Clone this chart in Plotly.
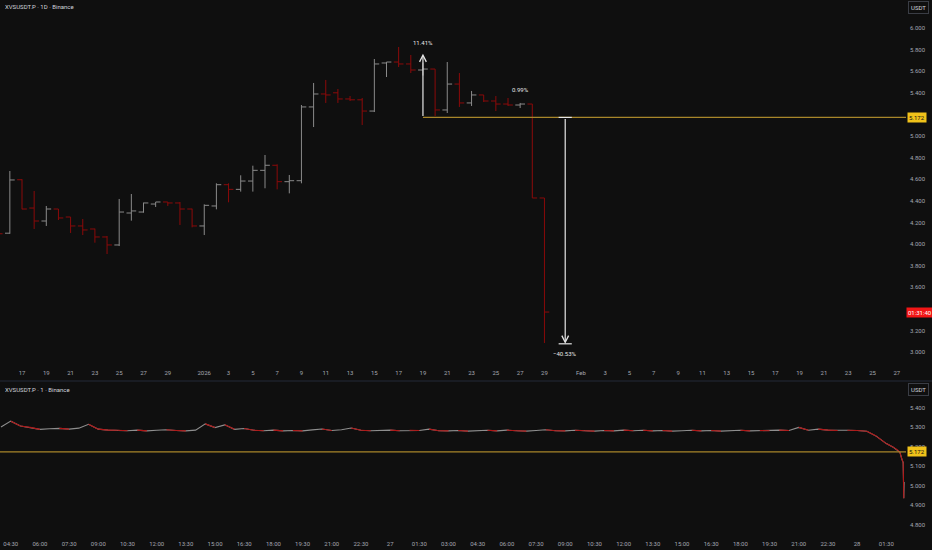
import pandas as pd
import plotly.graph_objects as go

# ---------------- data: daily OHLC (top pane) ----------------
dates = pd.date_range("2025-12-15", "2026-01-29", freq="D")
opens = [4.200, 4.100, 4.595, 4.333, 4.213, 4.324, 4.250, 4.167, 4.139, 4.065, 3.991, 4.287, 4.296, 4.370, 4.389, 4.380, 4.324,
         4.167, 4.352, 4.549, 4.506, 4.583, 4.682, 4.729, 4.577, 4.586, 5.269, 5.389, 5.400, 5.343, 5.335, 5.231, 5.676,
         5.685, 5.667, 5.611, 5.620, 5.241, 5.481, 5.306, 5.380, 5.324, 5.296, 5.287, 5.296, 4.426]
highs = [4.250, 4.676, 4.600, 4.491, 4.352, 4.324, 4.250, 4.231, 4.142, 4.074, 4.417, 4.463, 4.383, 4.389, 4.389, 4.389, 4.327,
         4.367, 4.562, 4.562, 4.636, 4.725, 4.824, 4.738, 4.639, 5.287, 5.491, 5.519, 5.435, 5.370, 5.352, 5.713, 5.685,
         5.824, 5.750, 5.680, 5.620, 5.685, 5.583, 5.417, 5.380, 5.370, 5.352, 5.306, 5.296, 4.426]
lows = [4.080, 4.095, 4.322, 4.139, 4.167, 4.222, 4.102, 4.083, 4.012, 3.907, 3.981, 4.216, 4.290, 4.343, 4.352, 4.176, 4.154,
        4.083, 4.321, 4.386, 4.485, 4.485, 4.516, 4.506, 4.469, 4.562, 5.083, 5.306, 5.306, 5.324, 5.102, 5.222, 5.546,
        5.639, 5.583, 5.560, 5.185, 5.213, 5.269, 5.278, 5.315, 5.231, 5.278, 5.259, 4.426, 3.083]
closes = [4.095, 4.593, 4.324, 4.213, 4.324, 4.241, 4.167, 4.130, 4.065, 3.991, 4.296, 4.306, 4.380, 4.389, 4.380, 4.324, 4.167,
          4.358, 4.549, 4.506, 4.583, 4.682, 4.729, 4.577, 4.586, 5.269, 5.389, 5.380, 5.343, 5.335, 5.231, 5.667, 5.685,
          5.667, 5.611, 5.620, 5.241, 5.481, 5.306, 5.380, 5.324, 5.296, 5.287, 5.296, 4.426, 3.370]

# ---------------- data: intraday (bottom pane) ----------------
intra_times = list(pd.date_range("2026-01-26 04:00", "2026-01-28 01:30", freq="30min")) + \
    [pd.Timestamp(t) for t in ["2026-01-28 01:50", "2026-01-28 02:05", "2026-01-28 02:12", "2026-01-28 02:18",
                               "2026-01-28 02:22", "2026-01-28 02:24", "2026-01-28 02:25"]]
intra_prices = [5.300, 5.330, 5.305, 5.298, 5.288, 5.291, 5.293, 5.289, 5.294, 5.314,
                5.289, 5.284, 5.283, 5.281, 5.284, 5.280, 5.283, 5.286, 5.282, 5.280,
                5.284, 5.316, 5.297, 5.311, 5.288, 5.292, 5.283, 5.281, 5.284, 5.280,
                5.282, 5.280, 5.285, 5.290, 5.282, 5.286, 5.295, 5.283, 5.281, 5.282,
                5.284, 5.281, 5.283, 5.282, 5.289, 5.281, 5.280, 5.282, 5.279, 5.281,
                5.283, 5.280, 5.284, 5.281, 5.279, 5.282, 5.286, 5.281, 5.280, 5.283,
                5.281, 5.279, 5.282, 5.280, 5.284, 5.281, 5.283, 5.280, 5.282, 5.279,
                5.281, 5.283, 5.280, 5.282, 5.279, 5.281, 5.283, 5.280, 5.282, 5.281,
                5.284, 5.282, 5.298, 5.283, 5.289, 5.284, 5.282, 5.283, 5.282, 5.278,
                5.252, 5.215,
                5.198, 5.182, 5.170, 5.135, 5.118, 4.935, 5.018]

# ---------------- annotations data ----------------
level = 5.172
up_pct = 11.41
down_pct = -40.53
small_pct = 0.99
up_date = pd.Timestamp("2026-01-19")
down_date = pd.Timestamp("2026-01-30 17:00")
small_date = pd.Timestamp("2026-01-27")
countdown = "01:31:40"

top_ticks = list(pd.date_range("2025-12-17", "2025-12-29", freq="2D")) + \
    list(pd.date_range("2026-01-01", "2026-01-01")) + list(pd.date_range("2026-01-03", "2026-01-29", freq="2D")) + \
    list(pd.date_range("2026-02-01", "2026-02-01")) + list(pd.date_range("2026-02-03", "2026-02-27", freq="2D"))
top_ticktext = []
for d in top_ticks:
    if d.month == 1 and d.day == 1:
        top_ticktext.append("2026")
    elif d.day == 1:
        top_ticktext.append(d.strftime("%b"))
    else:
        top_ticktext.append(str(d.day))

bot_ticks = list(pd.date_range("2026-01-26 04:30", "2026-01-28 01:30", freq="90min"))
bot_ticktext = [str(t.day) if (t.hour == 0 and t.minute == 0) else t.strftime("%H:%M") for t in bot_ticks]

yt_top = [3.0, 3.2, 3.6, 3.8, 4.0, 4.2, 4.4, 4.6, 4.8, 5.0, 5.4, 5.6, 5.8, 6.0]
yt_bot = [4.8, 4.9, 5.0, 5.1, 5.2, 5.3, 5.4]

# ---------------- style / layout constants ----------------
W, H = 932, 550
BG = "#0f0f0f"
TXT = "#a3a6af"
UP = "#8a8a8a"
DN = "#8b0a0a"
GOLD = "#a8862a"
FONT = "Roboto"
FS = 6
plot_w = 906
xr = plot_w / W

top_bot_px = 363
bot_top_px, bot_bot_px = 381, 535

px_day = 12.15
a_top = pd.Timestamp("2025-12-17")
top_range = [a_top - pd.Timedelta(days=22 / px_day), a_top + pd.Timedelta(days=(plot_w - 22) / px_day)]
px_unit_top = 108.0
top_yrange = [6.0 - (top_bot_px - 28) / px_unit_top, 6.0 + 28 / px_unit_top]
px_hour = 19.5
a_bot = pd.Timestamp("2026-01-27")
bot_range = [a_bot - pd.Timedelta(hours=391 / px_hour), a_bot + pd.Timedelta(hours=(plot_w + 2 - 391) / px_hour)]
px_unit_bot = 195.0
bot_yrange = [5.3 - (bot_bot_px - 427) / px_unit_bot, 5.3 + (427 - bot_top_px) / px_unit_bot]

fig = go.Figure()

fig.add_trace(go.Ohlc(x=dates, open=opens, high=highs, low=lows, close=closes,
                      increasing=dict(line=dict(color=UP, width=1)),
                      decreasing=dict(line=dict(color=DN, width=1)),
                      tickwidth=0.4, xaxis="x", yaxis="y", hoverinfo="skip"))

fig.add_trace(go.Scatter(x=intra_times, y=intra_prices, mode="lines",
                         line=dict(color="#8e8e8e", width=1.1), xaxis="x2", yaxis="y2", hoverinfo="skip"))
rx, ry = [], []
for i in range(1, len(intra_prices)):
    if intra_prices[i] < intra_prices[i - 1]:
        rx += [intra_times[i - 1], intra_times[i], None]
        ry += [intra_prices[i - 1], intra_prices[i], None]
fig.add_trace(go.Scatter(x=rx, y=ry, mode="lines", line=dict(color="#b01515", width=1.1),
                         xaxis="x2", yaxis="y2", hoverinfo="skip", connectgaps=False))

up_target = level * (1 + up_pct / 100)
down_target = level * (1 + down_pct / 100)

top_dom = [1 - top_bot_px / H, 1]
bot_dom = [1 - bot_bot_px / H, 1 - bot_top_px / H]

tickfont = dict(family=FONT, size=FS, color=TXT)

fig.update_layout(
    width=W, height=H, margin=dict(l=0, r=0, t=0, b=0),
    paper_bgcolor=BG, plot_bgcolor=BG, showlegend=False, hovermode=False,
    font=dict(family=FONT, color=TXT, size=FS),
    xaxis=dict(domain=[0, xr], anchor="y", type="date", range=top_range, tickmode="array",
               tickvals=top_ticks, ticktext=top_ticktext, tickfont=tickfont, showgrid=False, zeroline=False,
               showline=False, ticks="", ticklabelstandoff=5, rangeslider=dict(visible=False), fixedrange=True),
    yaxis=dict(domain=top_dom, anchor="x", side="right", range=top_yrange, tickmode="array", tickvals=yt_top,
               ticktext=[f"{v:.3f}" for v in yt_top], tickfont=tickfont, showgrid=False, zeroline=False,
               showline=False, ticks="", ticklabelstandoff=3),
    xaxis2=dict(domain=[0, xr], anchor="y2", type="date", range=bot_range, tickmode="array",
                tickvals=bot_ticks, ticktext=bot_ticktext, tickfont=tickfont, showgrid=False, zeroline=False,
                showline=False, ticks="", ticklabelstandoff=4),
    yaxis2=dict(domain=bot_dom, anchor="x2", side="right", range=bot_yrange, tickmode="array", tickvals=yt_bot,
                ticktext=[f"{v:.3f}" for v in yt_bot], tickfont=tickfont, showgrid=False, zeroline=False,
                showline=False, ticks="", ticklabelstandoff=3),
)

cap = pd.Timedelta(hours=13)
shapes = [
    dict(type="line", xref="paper", yref="paper", x0=0, x1=1, y0=1 - bot_top_px / H, y1=1 - bot_top_px / H,
         line=dict(color="#1e222b", width=1.5)),
    dict(type="line", xref="x2 domain", yref="y2", x0=0, x1=1, y0=level, y1=level, line=dict(color=GOLD, width=1.2)),
    dict(type="line", xref="x domain", yref="y", x0=(up_date - top_range[0]) / (top_range[1] - top_range[0]), x1=1,
         y0=level, y1=level, line=dict(color=GOLD, width=1.2)),
    dict(type="line", xref="x", yref="y", x0=(down_date - cap).isoformat(), x1=(down_date + cap).isoformat(),
         y0=level, y1=level, line=dict(color="#e6e6e6", width=1.2)),
    dict(type="line", xref="x", yref="y", x0=(down_date - cap).isoformat(), x1=(down_date + cap).isoformat(),
         y0=down_target, y1=down_target, line=dict(color="#e6e6e6", width=1.2)),
]
fig.update_layout(shapes=shapes)

ann = []
ann.append(dict(xref="paper", yref="paper", x=3 / W, y=1 - 7 / H, xanchor="left", yanchor="middle",
                text="XVSUSDT.P · 1D · Binance", showarrow=False, font=dict(family=FONT, size=FS, color="#d1d4dc")))
ann.append(dict(xref="paper", yref="paper", x=3 / W, y=1 - 389 / H, xanchor="left", yanchor="middle",
                text="XVSUSDT.P · 1 · Binance", showarrow=False, font=dict(family=FONT, size=FS, color="#d1d4dc")))
for yp in (8, 389):
    ann.append(dict(xref="paper", yref="paper", x=918.5 / W, y=1 - yp / H, xanchor="center", yanchor="middle",
                    text="USDT", showarrow=False, font=dict(family=FONT, size=FS, color="#d1d4dc"),
                    bgcolor=BG, bordercolor="#3a3d45", borderwidth=1, borderpad=2))
ann.append(dict(xref="x", yref="y", x=up_date.isoformat(), y=up_target, axref="x", ayref="y", ax=up_date.isoformat(),
                ay=level, text="", showarrow=True, arrowhead=5, arrowsize=1.1, arrowwidth=1.2,
                arrowcolor="#e6e6e6", standoff=0))
ann.append(dict(xref="x", yref="y", x=up_date.isoformat(), y=up_target, yshift=11, text=f"{up_pct:.2f}%",
                showarrow=False, font=dict(family=FONT, size=FS, color="#e6e6e6")))
ann.append(dict(xref="x", yref="y", x=down_date.isoformat(), y=down_target, axref="x", ayref="y",
                ax=down_date.isoformat(), ay=level, text="", showarrow=True, arrowhead=5, arrowsize=1.1,
                arrowwidth=1.2, arrowcolor="#e6e6e6", standoff=0))
ann.append(dict(xref="x", yref="y", x=down_date.isoformat(), y=down_target, yshift=-10,
                text=f"{down_pct:.2f}%".replace("-", "−"), showarrow=False,
                font=dict(family=FONT, size=FS, color="#e6e6e6")))
ann.append(dict(xref="x", yref="y", x=small_date.isoformat(), y=highs[dates.get_loc(small_date)], yshift=13,
                text=f"{small_pct:.2f}%", showarrow=False, font=dict(family=FONT, size=FS, color="#e6e6e6")))
for yref in ("y", "y2"):
    ann.append(dict(xref="paper", yref=yref, x=(plot_w + 1) / W, y=level, xanchor="left", yanchor="middle",
                    text=f"{level:.3f}", showarrow=False, bgcolor="#f0c21a", borderpad=1,
                    font=dict(family=FONT, size=FS, color="#131313")))
ann.append(dict(xref="paper", yref="y", x=plot_w / W, y=closes[-1], xanchor="left", yanchor="middle",
                text=countdown, showarrow=False, bgcolor="#f21616", borderpad=1,
                font=dict(family=FONT, size=FS, color="#ffffff")))
fig.update_layout(annotations=ann)

fig.write_html("out.html", config={"displayModeBar": False, "staticPlot": True},
               post_script="document.body.style.margin='0';document.body.style.background='#0f0f0f';document.body.style.overflow='hidden';")
